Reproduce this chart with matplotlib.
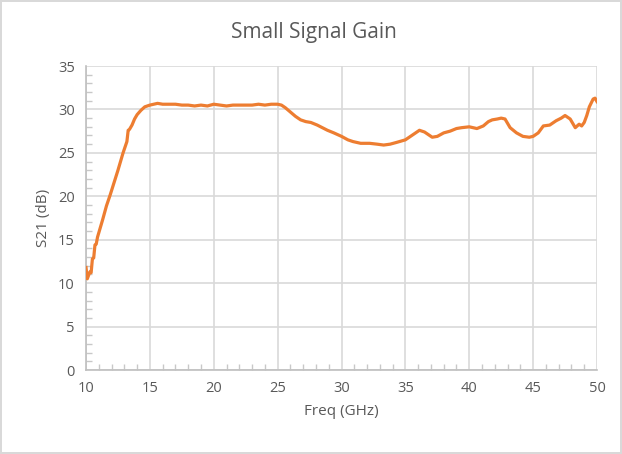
import numpy as np
import matplotlib.pyplot as plt
from matplotlib.ticker import MultipleLocator

plt.rcParams['font.family'] = ['Open Sans', 'DejaVu Sans']

# 读图得到的数据 (GHz, dB)
freq = [10.0, 10.1, 10.2, 10.3, 10.4, 10.5, 10.6, 10.7, 10.8, 10.9, 11.0,
        11.3, 11.6, 11.9, 12.2, 12.5, 12.9, 13.2, 13.3, 13.4, 13.6, 13.8,
        14.0, 14.3, 14.6, 14.8, 15.0, 15.3, 15.6, 16.0, 16.5, 17.0, 17.5,
        18.0, 18.5, 19.0, 19.5, 20.0, 20.5, 21.0, 21.5, 22.0, 22.5, 23.0,
        23.5, 24.0, 24.5, 25.0, 25.3, 25.6, 26.0, 26.4, 26.8, 27.2, 27.6,
        28.1, 28.5, 28.9, 29.4, 30.0, 30.5, 30.9, 31.5, 32.2, 32.8, 33.3,
        33.8, 34.3, 35.0, 35.5, 36.1, 36.5, 37.1, 37.5, 38.0, 38.5, 39.0,
        39.4, 40.0, 40.3, 40.6, 41.1, 41.5, 41.8, 42.2, 42.5, 42.8, 43.2,
        43.7, 44.2, 44.7, 45.0, 45.4, 45.8, 46.3, 46.8, 47.2, 47.5, 47.9,
        48.3, 48.6, 48.8, 49.0, 49.2, 49.4, 49.7, 49.85, 50.0]
gain = [11.8, 10.5, 10.9, 11.3, 11.2, 12.8, 12.9, 14.4, 14.5, 15.3, 15.8,
        17.3, 18.9, 20.2, 21.6, 23.0, 25.0, 26.3, 27.6, 27.7, 28.2, 28.9,
        29.4, 29.9, 30.3, 30.4, 30.5, 30.6, 30.7, 30.6, 30.6, 30.6, 30.5,
        30.5, 30.4, 30.5, 30.4, 30.6, 30.5, 30.4, 30.5, 30.5, 30.5, 30.5,
        30.6, 30.5, 30.6, 30.6, 30.5, 30.2, 29.7, 29.2, 28.8, 28.6, 28.5,
        28.2, 27.9, 27.6, 27.3, 26.9, 26.5, 26.3, 26.1, 26.1, 26.0, 25.9,
        26.0, 26.2, 26.5, 27.0, 27.6, 27.4, 26.8, 26.9, 27.3, 27.5, 27.8,
        27.9, 28.0, 27.9, 27.8, 28.1, 28.6, 28.8, 28.9, 29.0, 28.9, 27.9,
        27.3, 26.9, 26.8, 26.9, 27.3, 28.1, 28.2, 28.7, 29.0, 29.3, 28.9,
        27.9, 28.3, 28.1, 28.5, 29.3, 30.3, 31.2, 31.3, 30.9]

fig = plt.figure(figsize=(6.22, 4.54), dpi=100)
fig.patch.set_edgecolor('#d9d9d9')
fig.patch.set_linewidth(1.5)
ax = fig.add_axes([0.1383, 0.185, 0.8215, 0.6696])

ax.plot(freq, gain, color='#ed7d31', linewidth=2.3, zorder=3)

ax.set_xlim(10, 50)
ax.set_ylim(0, 35)
ax.xaxis.set_major_locator(MultipleLocator(5))
ax.yaxis.set_major_locator(MultipleLocator(5))
ax.xaxis.set_minor_locator(MultipleLocator(1))
ax.yaxis.set_minor_locator(MultipleLocator(1))
ax.grid(True, which='major', color='#d9d9d9', linewidth=1.2)
ax.set_axisbelow(True)

for s in ['top', 'right']:
    ax.spines[s].set_visible(False)
for s in ['left', 'bottom']:
    ax.spines[s].set_color('#bfbfbf')
    ax.spines[s].set_linewidth(1.2)

ax.tick_params(which='major', length=0, labelsize=10.5, labelcolor='#595959', pad=8)
ax.tick_params(which='minor', direction='in', length=4, color='#c8c8c8', width=1)

ax.set_title('Small Signal Gain', fontsize=15, color='#595959', pad=20, x=0.446)
ax.set_xlabel('Freq (GHz)', fontsize=11, color='#595959', labelpad=6)
ax.set_ylabel('S21 (dB)', fontsize=11, color='#595959', labelpad=5)

fig.savefig('out.png', dpi=100, edgecolor=fig.get_edgecolor())
